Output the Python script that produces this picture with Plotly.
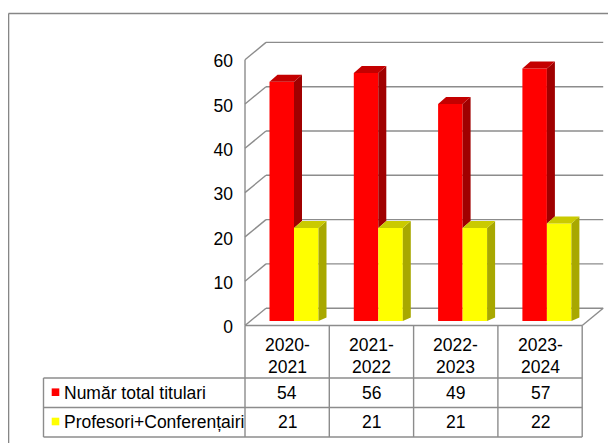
import plotly.graph_objects as go

# ---------------- data ----------------
categories = ["2020-2021", "2021-2022", "2022-2023", "2023-2024"]
series_names = ["Număr total titulari", "Profesori+Conferențairi"]
total_titulari = [54, 56, 49, 57]
profesori_conf = [21, 21, 21, 22]
y_ticks = [0, 10, 20, 30, 40, 50, 60]

# ---------------- geometry / style ----------------
W, H = 616, 443
PAGE_OFF = 8       # page body margin: figure starts at page pixel (8, 8)
CAT_PX = 84.3      # pixels per category
UNIT_PX = 4.43     # pixels per value unit
X0_PX = 294        # page pixel x of category-0 bar centre
Y0_PX = 321        # page pixel y of value 0 (bar plane)


def px_x(p):
    return (p - X0_PX) / CAT_PX


def px_y(q):
    return (Y0_PX - q) / UNIT_PX


BW = 24.5 / CAT_PX                 # bar width
DX, DY = 8 / CAT_PX, 7 / UNIT_PX   # bar depth offset
FRONT_DY = -4.5 / UNIT_PX
BACK_DY = 12.8 / UNIT_PX
FRONT_L = px_x(245)
BACK_L = FRONT_L + 21 / CAT_PX
FRONT_R = FRONT_L + len(categories)
BACK_R = FRONT_R + 21 / CAT_PX

RED, RED_SIDE, RED_TOP = "#FF0000", "#A00000", "#C40000"
YEL, YEL_SIDE, YEL_TOP = "#FFFF00", "#A8A800", "#CACA00"
GRID = "#8C8C8C"
REG = "Liberation Sans, Arial"

xs = list(range(len(categories)))

fig = go.Figure()
fig.add_trace(go.Bar(x=xs, y=total_titulari, width=BW, offset=-BW, base=0,
                     marker=dict(color=RED, line=dict(width=0)),
                     name=series_names[0], hoverinfo="skip"))
fig.add_trace(go.Bar(x=xs, y=profesori_conf, width=BW, offset=0, base=0,
                     marker=dict(color=YEL, line=dict(width=0)),
                     name=series_names[1], hoverinfo="skip"))


def poly_trace(polys, color):
    px, py = [], []
    for poly in polys:
        for (a, b) in poly:
            px.append(a)
            py.append(b)
        px.append(poly[0][0])
        py.append(poly[0][1])
        px.append(None)
        py.append(None)
    return go.Scatter(x=px, y=py, mode="lines", fill="toself", fillcolor=color,
                      line=dict(width=0, color=color), hoverinfo="skip",
                      showlegend=False)


red_side, red_top, yel_side, yel_top = [], [], [], []
for i, (r, y) in enumerate(zip(total_titulari, profesori_conf)):
    red_side.append([(i, y), (i, r), (i + DX, r + DY), (i + DX, y + DY)])
    red_top.append([(i - BW, r), (i, r), (i + DX, r + DY), (i - BW + DX, r + DY)])
    yel_side.append([(i + BW, 0), (i + BW, y), (i + BW + DX, y + DY), (i + BW + DX, DY * 0.5)])
    yel_top.append([(i, y), (i + BW, y), (i + BW + DX, y + DY), (i + DX, y + DY)])

fig.add_trace(poly_trace(red_side, RED_SIDE))
fig.add_trace(poly_trace(red_top, RED_TOP))
fig.add_trace(poly_trace(yel_side, YEL_SIDE))
fig.add_trace(poly_trace(yel_top, YEL_TOP))

shapes = []


def line(x0, y0, x1, y1, color=GRID, width=1.4, layer="below"):
    shapes.append(dict(type="line", xref="x", yref="y", x0=x0, y0=y0, x1=x1, y1=y1,
                       line=dict(color=color, width=width), layer=layer))


# outer chart frame
line(px_x(8.5), px_y(460), px_x(8.5), px_y(13.5), color="#868686", width=1.6)
line(px_x(8.5), px_y(13.5), px_x(640), px_y(13.5), color="#868686", width=1.6)

# walls and gridlines
for v in y_ticks:
    line(BACK_L, v + BACK_DY, BACK_R, v + BACK_DY)
    line(FRONT_L, v + FRONT_DY, BACK_L, v + BACK_DY)
line(FRONT_L, FRONT_DY, FRONT_L, y_ticks[-1] + FRONT_DY)
line(FRONT_R, FRONT_DY, BACK_R, BACK_DY)

# data table
row_top, row_mid, row_bot = px_y(378), px_y(407.5), px_y(437)
tab_left = px_x(43.5)
line(FRONT_L, FRONT_DY, FRONT_R, FRONT_DY, layer="above")
for k in range(len(categories) + 1):
    line(FRONT_L + k, FRONT_DY, FRONT_L + k, row_bot, layer="above")
for yy in (row_top, row_mid, row_bot):
    line(tab_left, yy, FRONT_R, yy, layer="above")
line(tab_left, row_top, tab_left, row_bot, layer="above")

# legend keys inside table
for (yc, col) in ((392.2, RED), (421.5, YEL)):
    shapes.append(dict(type="rect", xref="x", yref="y", x0=px_x(51.7), x1=px_x(59.3),
                       y0=px_y(yc - 3.8), y1=px_y(yc + 3.8), fillcolor=col,
                       line=dict(width=0), layer="above"))

annotations = []
tfont = dict(family=REG, size=17.5, color="black")
for i, cat in enumerate(categories):
    xc = FRONT_L + i + 0.5
    a, b = cat.split("-")
    annotations.append(dict(x=xc, y=px_y(345), text=a + "-", showarrow=False,
                            xanchor="center", yanchor="middle", font=tfont))
    annotations.append(dict(x=xc, y=px_y(367), text=b, showarrow=False,
                            xanchor="center", yanchor="middle", font=tfont))
    annotations.append(dict(x=xc, y=px_y(392.5), text=str(total_titulari[i]),
                            showarrow=False, xanchor="center", yanchor="middle", font=tfont))
    annotations.append(dict(x=xc, y=px_y(422), text=str(profesori_conf[i]),
                            showarrow=False, xanchor="center", yanchor="middle", font=tfont))
for (yc, name) in ((392.5, series_names[0]), (422, series_names[1])):
    annotations.append(dict(x=px_x(62), y=px_y(yc), text=name, showarrow=False,
                            xanchor="left", yanchor="middle", font=tfont))

fig.update_layout(
    width=W, height=H, margin=dict(l=0, r=0, t=0, b=0),
    paper_bgcolor="white", plot_bgcolor="white",
    barmode="overlay", showlegend=False,
    xaxis=dict(range=[px_x(PAGE_OFF), px_x(PAGE_OFF + W)], visible=False, fixedrange=True),
    yaxis=dict(range=[px_y(PAGE_OFF + H), px_y(PAGE_OFF)], tickvals=y_ticks, showgrid=False,
               zeroline=False, showline=False, ticks="", anchor="free",
               position=(233 - PAGE_OFF) / W, ticklabelshift=6,
               tickfont=dict(family=REG, size=17.5, color="black"), fixedrange=True),
    shapes=shapes, annotations=annotations,
)

fig.write_html("out.html")
